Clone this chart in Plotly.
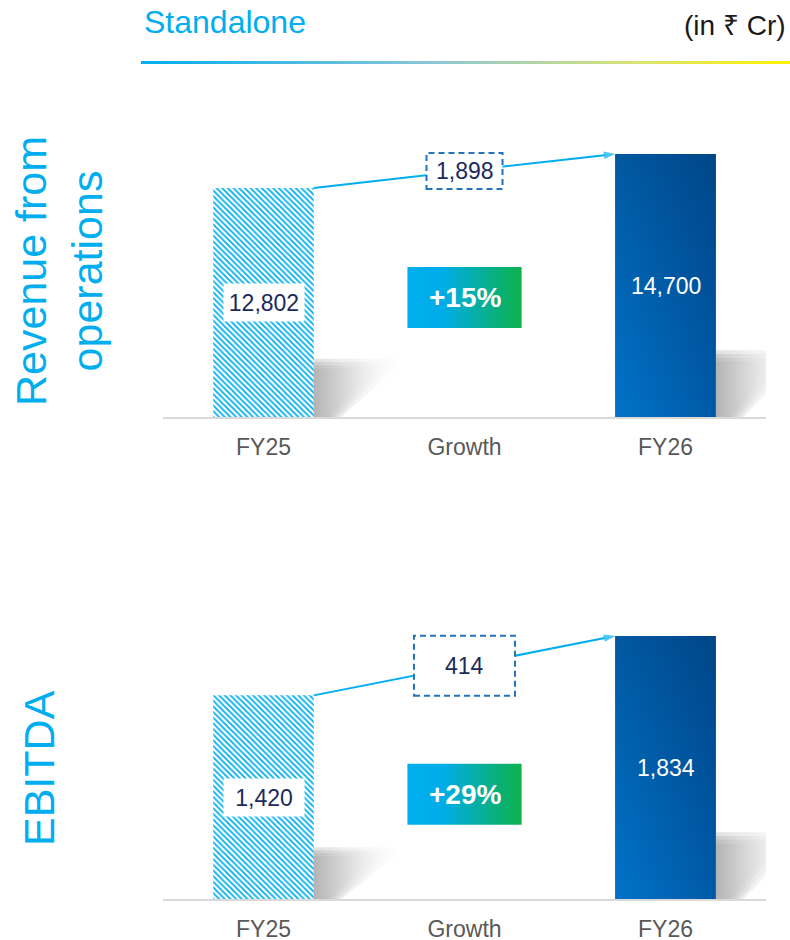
import plotly.graph_objects as go

# ---------------- data ----------------
categories = ["FY25", "Growth", "FY26"]
metric_titles = ["Revenue from<br>operations", "EBITDA"]
fy25_values = [12802, 1420]
fy26_values = [14700, 1834]
header_title = "Standalone"
unit_label = "(in ₹ Cr)"

# ---------------- layout constants (pixels) ----------------
W, H = 790, 940
X_LEFT, X_RIGHT = 163, 766
BASELINES = [417, 899]      # pixel y of each chart's baseline
PLOT_H = 322                # plot-area height in px
BAR_PX = 263                # px height of the FY26 bar
BAR_W = 0.5
FONT = "Arial, Liberation Sans, sans-serif"
CYAN = "#00AEEF"
NAVY = "#1B2A5C"

fig = go.Figure()
shapes = []
annotations = []

for i in range(2):
    v25, v26 = fy25_values[i], fy26_values[i]
    growth = v26 - v25
    pct = round(growth / v25 * 100)
    ymax = v26 * PLOT_H / BAR_PX
    u = ymax / PLOT_H                      # data units per pixel
    xa = "x" if i == 0 else "x2"
    ya = "y" if i == 0 else "y2"
    axn = "" if i == 0 else "2"

    # shadows to the right of each bar (layered for a soft edge)
    for xc, val in [(0, v25), (2, v26)]:
        hs = 0.235 * val
        sx = xc + BAR_W / 2
        for sh, sw in [(1.08, 1.15), (1.02, 1.0), (0.96, 0.85), (0.9, 0.7)]:
            fig.add_trace(go.Scatter(
                x=[sx, sx, sx + 0.40 * sw, sx + 0.12 * sw, sx],
                y=[0, hs * sh, hs * sh, 0, 0],
                xaxis=xa, yaxis=ya, mode="lines", line=dict(width=0), fill="toself",
                fillgradient=dict(type="horizontal",
                                  colorscale=[[0, "rgba(160,160,160,0.33)"],
                                              [1, "rgba(220,220,220,0)"]]),
                hoverinfo="skip", showlegend=False))

    # FY25 hatched bar
    fig.add_trace(go.Bar(
        x=[0], y=[v25], width=BAR_W, xaxis=xa, yaxis=ya,
        marker=dict(color="white", line=dict(width=0),
                    pattern=dict(shape="\\", fgcolor=CYAN, bgcolor="white",
                                 size=4, solidity=0.45, fillmode="replace")),
        hoverinfo="skip", showlegend=False))
    # FY26 bar
    fig.add_trace(go.Bar(
        x=[2], y=[v26], width=BAR_W, xaxis=xa, yaxis=ya,
        marker=dict(color="#0066B8", line=dict(width=0)),
        hoverinfo="skip", showlegend=False))
    bx0, bx1 = 2 - BAR_W / 2, 2 + BAR_W / 2
    # horizontal gradient on FY26 bar
    fig.add_trace(go.Scatter(
        x=[bx0, bx1, bx1, bx0, bx0], y=[0, 0, v26, v26, 0], xaxis=xa, yaxis=ya,
        mode="lines", line=dict(width=0), fill="toself",
        fillgradient=dict(type="horizontal",
                          colorscale=[[0, "#0073C9"], [1, "#0059A6"]]),
        hoverinfo="skip", showlegend=False))
    # vertical darkening toward the top
    fig.add_trace(go.Scatter(
        x=[bx0, bx1, bx1, bx0, bx0], y=[0, 0, v26, v26, 0], xaxis=xa, yaxis=ya,
        mode="lines", line=dict(width=0), fill="toself",
        fillgradient=dict(type="vertical", start=0, stop=v26,
                          colorscale=[[0, "rgba(0,20,60,0)"], [1, "rgba(0,20,60,0.28)"]]),
        hoverinfo="skip", showlegend=False))

    # connector with arrowhead
    fig.add_trace(go.Scatter(
        x=[BAR_W / 2, 2 - BAR_W / 2], y=[v25, v26], xaxis=xa, yaxis=ya,
        mode="lines+markers", line=dict(color=CYAN, width=2),
        marker=dict(symbol=["circle", "arrow"], size=[0, 12], color=CYAN,
                    angleref="previous", line=dict(width=0)),
        hoverinfo="skip", showlegend=False))

    # percent growth box with gradient
    yc = v25 / 2 + (5 if i == 0 else 3) * u
    hh = 30.5 * u
    fig.add_trace(go.Scatter(
        x=[0.716, 1.284, 1.284, 0.716, 0.716], y=[yc - hh, yc - hh, yc + hh, yc + hh, yc - hh],
        xaxis=xa, yaxis=ya, mode="lines", line=dict(width=0), fill="toself",
        fillgradient=dict(type="horizontal",
                          colorscale=[[0, "#00AEEF"], [0.3, "#00ADEA"], [1, "#0DB14B"]]),
        hoverinfo="skip", showlegend=False))
    annotations.append(dict(x=1, y=yc, xref=xa, yref=ya, text=f"<b>+{pct}%</b>",
                            showarrow=False, font=dict(family=FONT, size=28, color="white")))

    # dashed growth value box
    ymid = (v25 + v26) / 2
    bw, bh = (76, 36) if i == 0 else (101, 60)
    shapes.append(dict(type="rect", xref=xa, yref=ya, xsizemode="pixel", ysizemode="pixel",
                       xanchor=1, yanchor=ymid, x0=-bw / 2, x1=bw / 2, y0=-bh / 2, y1=bh / 2,
                       line=dict(color="#2272BE", width=2, dash="6px,4px"),
                       fillcolor="white", layer="above"))
    annotations.append(dict(x=1, y=ymid, xref=xa, yref=ya, text=f"{growth:,}",
                            showarrow=False, font=dict(family=FONT, size=23, color=NAVY)))

    # value labels
    annotations.append(dict(x=0, y=v25 / 2, xref=xa, yref=ya, text=f"{v25:,}",
                            showarrow=False, bgcolor="white", width=72, height=29, borderpad=4,
                            font=dict(family=FONT, size=23, color=NAVY)))
    annotations.append(dict(x=2, y=v26 / 2, xref=xa, yref=ya, text=f"{v26:,}",
                            showarrow=False, font=dict(family=FONT, size=23, color="white")))

    base = BASELINES[i]
    fig.update_layout(**{
        f"xaxis{axn}": dict(domain=[X_LEFT / W, X_RIGHT / W], range=[-0.5, 2.5],
                            tickvals=[0, 1, 2], ticktext=categories,
                            showline=True, linecolor="#D9D9D9", linewidth=2,
                            showgrid=False, zeroline=False, ticks="outside", ticklen=8,
                            tickcolor="rgba(0,0,0,0)", fixedrange=True, automargin=False,
                            tickfont=dict(family=FONT, size=23, color="#595959"),
                            anchor=ya),
        f"yaxis{axn}": dict(domain=[(H - base) / H, (H - base + PLOT_H) / H],
                            range=[0, ymax], visible=False, fixedrange=True,
                            showgrid=False, zeroline=False, automargin=False,
                            anchor=xa),
    })

# gradient header rule
fig.add_trace(go.Scatter(
    x=[0, 1, 1, 0, 0], y=[0, 0, 1, 1, 0], xaxis="x3", yaxis="y3",
    mode="lines", line=dict(width=0), fill="toself",
    fillgradient=dict(type="horizontal",
                      colorscale=[[0, "#00AEEF"], [0.45, "#8CC6D6"], [0.75, "#D6E27A"], [1, "#FFF200"]]),
    hoverinfo="skip", showlegend=False))
fig.update_layout(
    xaxis3=dict(domain=[141 / W, 1], range=[0, 1], visible=False, fixedrange=True, anchor="y3"),
    yaxis3=dict(domain=[(H - 64) / H, (H - 61) / H], range=[0, 1], visible=False,
                fixedrange=True, anchor="x3"),
)

# header texts
annotations.append(dict(x=142 / W, y=1 - 22 / H, xref="paper", yref="paper", xanchor="left",
                        yanchor="middle", text=header_title, showarrow=False,
                        font=dict(family=FONT, size=32, color=CYAN)))
annotations.append(dict(x=788 / W, y=1 - 26 / H, xref="paper", yref="paper", xanchor="right",
                        yanchor="middle", text=unit_label, showarrow=False,
                        font=dict(family=FONT, size=28, color="#1A1A1A")))

# metric titles (rotated)
title_pos = [(59, 271), (39, 768)]
for t, (px, py) in zip(metric_titles, title_pos):
    annotations.append(dict(x=px / W, y=1 - py / H, xref="paper", yref="paper",
                            xanchor="center", yanchor="middle", textangle=-90,
                            text=t, showarrow=False,
                            font=dict(family=FONT, size=43, color=CYAN)))

fig.update_layout(
    width=W, height=H, margin=dict(l=0, r=0, t=0, b=0),
    paper_bgcolor="white", plot_bgcolor="rgba(0,0,0,0)",
    showlegend=False, barmode="overlay",
    shapes=shapes, annotations=annotations,
)

fig.write_html("out.html", config={"displayModeBar": False},
               post_script="document.body.style.margin='0';document.body.style.overflow='hidden';")
